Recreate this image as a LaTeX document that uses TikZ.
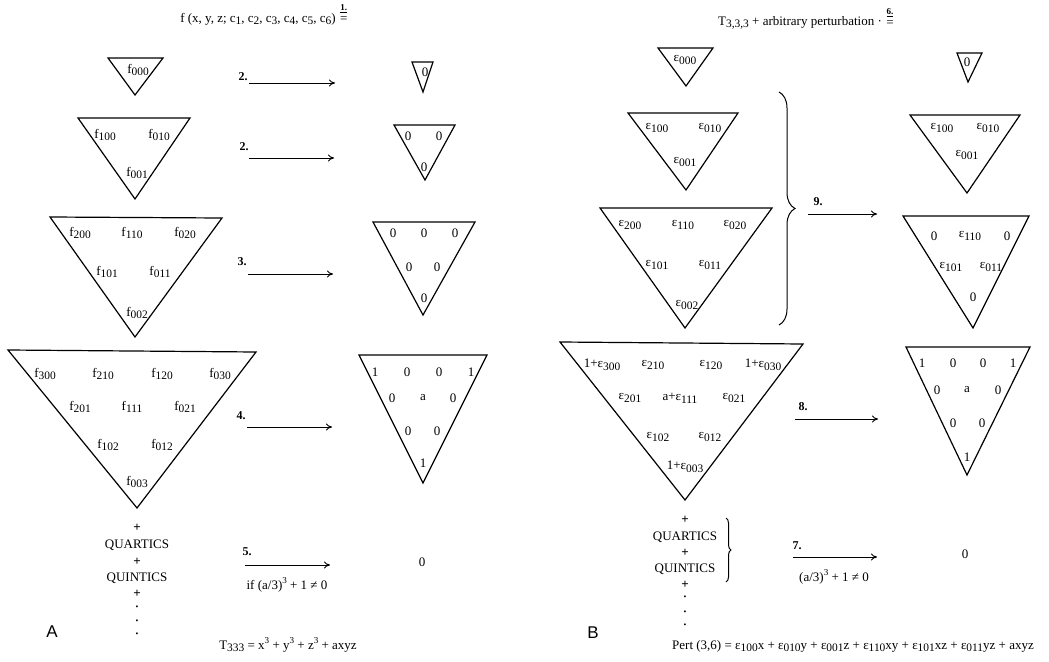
\documentclass[tikz,border=0pt]{standalone}
\usepackage{fontspec}
\setmainfont{Liberation Serif}
\setsansfont{Liberation Sans}
\usetikzlibrary{arrows.meta,decorations.pathreplacing,positioning}
\newcommand{\idx}[1]{\raisebox{-0.45ex}{\scalebox{0.88}{#1}}}
\newcommand{\pw}[1]{\raisebox{0.9ex}{\scalebox{0.7}{#1}}}

\begin{document}
\begin{tikzpicture}[x=1pt,y=-1pt,
    tri/.style={line width=1.2pt},
    arr/.style={line width=1pt,-{To[length=6pt,width=7pt]}},
    lab/.style={inner sep=0pt,font=\fontsize{13}{14}\selectfont},
    num/.style={inner sep=0pt,font=\fontsize{12}{13}\selectfont\bfseries},
    sml/.style={inner sep=0pt,font=\fontsize{9}{9}\selectfont\bfseries},
    sum/.style={inner sep=0pt,font=\fontsize{13}{14}\selectfont},
    txt/.style={inner sep=0pt,font=\fontsize{13}{14}\selectfont},
    dot/.style={inner sep=0pt,font=\fontsize{8}{8}\selectfont},
    panel/.style={inner sep=0pt,font=\sffamily\fontsize{17}{19}\selectfont},
    brc/.style={decorate,decoration={brace,amplitude=#1},line width=1pt}]
    \useasboundingbox (0,0) rectangle (1049,661);

    % panel A, left column
    \node[txt] (ttlA) at (258,19) {f (x, y, z; c\idx{1}, c\idx{2}, c\idx{3}, c\idx{4}, c\idx{5}, c\idx{6})};
    \node[txt,right=4pt of ttlA.east,yshift=-1pt] (eqA) {=};
    \node[sml,above=4pt of eqA] (kA) {\underline{1.}};
    \draw[tri] (108,58) -- (163,58) -- (135,95) -- cycle;
    \node[lab] (f000) at (138,70) {f\idx{000}};
    \draw[tri] (78,118) -- (190,118) -- (135,199) -- cycle;
    \node[lab] (f100) at (105,135) {f\idx{100}};
    \node[lab] (f010) at (159,135) {f\idx{010}};
    \node[lab] (f001) at (137,173) {f\idx{001}};
    \draw[tri] (50,217) -- (222,218) -- (135,337) -- cycle;
    \node[lab] (f200) at (80,233) {f\idx{200}};
    \node[lab] (f110) at (132,233) {f\idx{110}};
    \node[lab] (f020) at (185,233) {f\idx{020}};
    \node[lab] (f101) at (107,272) {f\idx{101}};
    \node[lab] (f011) at (160,272) {f\idx{011}};
    \node[lab] (f002) at (137,313) {f\idx{002}};
    \draw[tri] (8,350) -- (256,352) -- (137,508) -- cycle;
    \node[lab] (f300) at (45,374) {f\idx{300}};
    \node[lab] (f210) at (103,374) {f\idx{210}};
    \node[lab] (f120) at (162,374) {f\idx{120}};
    \node[lab] (f030) at (220,374) {f\idx{030}};
    \node[lab] (f201) at (80,407) {f\idx{201}};
    \node[lab] (f111) at (132,407) {f\idx{111}};
    \node[lab] (f021) at (185,407) {f\idx{021}};
    \node[lab] (f102) at (108,445) {f\idx{102}};
    \node[lab] (f012) at (162,445) {f\idx{012}};
    \node[lab] (f003) at (137,482) {f\idx{003}};
    \node[lab] (pA1) at (137,528) {\textbf{+}};
    \node[sum] (qrtA) at (137,545) {QUARTICS};
    \node[lab] (pA2) at (137,562) {\textbf{+}};
    \node[sum] (qntA) at (137,578) {QUINTICS};
    \node[lab] (pA3) at (137,594) {\textbf{+}};
    \node[dot] (dA1) at (137,608) {\textbullet};
    \node[dot] (dA2) at (137,622) {\textbullet};
    \node[dot] (dA3) at (137,635) {\textbullet};
    \node[panel] (A) at (52,632) {A};
    \node[txt] (cubA) at (288,645) {T\idx{333} = x\pw{3} + y\pw{3} + z\pw{3} + axyz};

    % panel A, arrows
    \coordinate (s2a) at (249,83);  \coordinate (e2a) at (335,83);
    \coordinate (s2b) at (249,158); \coordinate (e2b) at (334,158);
    \coordinate (s3) at (248,274);  \coordinate (e3) at (333,274);
    \coordinate (s4) at (247,427);  \coordinate (e4) at (332,427);
    \coordinate (s5) at (245,565);  \coordinate (e5) at (330,565);
    \draw[arr] (s2a) -- (e2a);
    \draw[arr] (s2b) -- (e2b);
    \draw[arr] (s3) -- (e3);
    \draw[arr] (s4) -- (e4);
    \draw[arr] (s5) -- (e5);
    \node[num] (n2a) at (243,77) {2.};
    \node[num] (n2b) at (244,147) {2.};
    \node[num] (n3) at (242,262) {3.};
    \node[num] (n4) at (241,416) {4.};
    \node[num] (n5) at (247,552) {5.};
    \node[txt] (ifA) at (287,585) {if (a/3)\pw{3} + 1 ≠ 0};

    % panel A, right column
    \draw[tri] (412,62) -- (433,62) -- (423,92) -- cycle;
    \node[lab] (g000) at (425,72) {0};
    \draw[tri] (394,125) -- (455,125) -- (425,180) -- cycle;
    \node[lab] (g100) at (408,136) {0};
    \node[lab] (g010) at (439,136) {0};
    \node[lab] (g001) at (424,167) {0};
    \draw[tri] (373,222) -- (475,222) -- (423,315) -- cycle;
    \node[lab] (g200) at (393,233) {0};
    \node[lab] (g110) at (424,233) {0};
    \node[lab] (g020) at (455,233) {0};
    \node[lab] (g101) at (409,267) {0};
    \node[lab] (g011) at (437,267) {0};
    \node[lab] (g002) at (424,298) {0};
    \draw[tri] (359,355) -- (487,355) -- (423,483) -- cycle;
    \node[lab] (g300) at (375,372) {1};
    \node[lab] (g210) at (407,372) {0};
    \node[lab] (g120) at (439,372) {0};
    \node[lab] (g030) at (471,372) {1};
    \node[lab] (g201) at (392,398) {0};
    \node[lab] (g111) at (423,398) {a};
    \node[lab] (g021) at (453,398) {0};
    \node[lab] (g102) at (408,431) {0};
    \node[lab] (g012) at (437,431) {0};
    \node[lab] (g003) at (423,463) {1};
    \node[lab] (zA) at (422,562) {0};

    % panel B, left column
    \node[txt] (ttlB) at (800,23) {T\idx{3,3,3} + arbitrary perturbation ·};
    \node[txt,right=4pt of ttlB.east,yshift=-1pt] (eqB) {=};
    \node[sml,above=4pt of eqB] (kB) {\underline{6.}};
    \draw[tri] (658,48) -- (713,48) -- (686,86) -- cycle;
    \node[lab] (e000) at (685,60) {ε\idx{000}};
    \draw[tri] (628,113) -- (738,113) -- (686,190) -- cycle;
    \node[lab] (e100) at (657,128) {ε\idx{100}};
    \node[lab] (e010) at (710,128) {ε\idx{010}};
    \node[lab] (e001) at (685,162) {ε\idx{001}};
    \draw[tri] (600,208) -- (772,208) -- (685,328) -- cycle;
    \node[lab] (e200) at (630,225) {ε\idx{200}};
    \node[lab] (e110) at (683,225) {ε\idx{110}};
    \node[lab] (e020) at (735,225) {ε\idx{020}};
    \node[lab] (e101) at (657,265) {ε\idx{101}};
    \node[lab] (e011) at (710,265) {ε\idx{011}};
    \node[lab] (e002) at (687,305) {ε\idx{002}};
    \draw[tri] (560,342) -- (803,344) -- (685,500) -- cycle;
    \node[lab] (e300) at (602,365) {1+ε\idx{300}};
    \node[lab] (e210) at (653,365) {ε\idx{210}};
    \node[lab] (e120) at (711,365) {ε\idx{120}};
    \node[lab] (e030) at (763,365) {1+ε\idx{030}};
    \node[lab] (e201) at (630,398) {ε\idx{201}};
    \node[lab] (e111) at (680,398) {a+ε\idx{111}};
    \node[lab] (e021) at (734,398) {ε\idx{021}};
    \node[lab] (e102) at (658,437) {ε\idx{102}};
    \node[lab] (e012) at (710,437) {ε\idx{012}};
    \node[lab] (e003) at (685,467) {1+ε\idx{003}};
    \node[lab] (pB1) at (685,520) {\textbf{+}};
    \node[sum] (qrtB) at (685,537) {QUARTICS};
    \node[lab] (pB2) at (685,553) {\textbf{+}};
    \node[sum] (qntB) at (685,569) {QUINTICS};
    \node[lab] (pB3) at (685,585) {\textbf{+}};
    \node[dot] (dB1) at (685,598) {\textbullet};
    \node[dot] (dB2) at (685,613) {\textbullet};
    \node[dot] (dB3) at (685,626) {\textbullet};
    \node[panel] (B) at (593,633) {B};
    \node[txt,anchor=west] (pert) at (672,646) {Pert (3,6) = ε\idx{100}x + ε\idx{010}y + ε\idx{001}z + ε\idx{110}xy + ε\idx{101}xz + ε\idx{011}yz + axyz};

    % panel B, braces and arrows
    \draw[brc=16] (779,92) -- (779,325);
    \draw[brc=5] (726,518) -- (726,582);
    \coordinate (s9) at (808,214); \coordinate (e9) at (877,214);
    \coordinate (s8) at (795,419); \coordinate (e8) at (878,419);
    \coordinate (s7) at (793,557); \coordinate (e7) at (877,557);
    \draw[arr] (s9) -- (e9);
    \draw[arr] (s8) -- (e8);
    \draw[arr] (s7) -- (e7);
    \node[num] (n9) at (818,202) {9.};
    \node[num] (n8) at (803,407) {8.};
    \node[num] (n7) at (797,546) {7.};
    \node[txt] (ifB) at (834,577) {(a/3)\pw{3} + 1 ≠ 0};

    % panel B, right column
    \draw[tri] (957,53) -- (982,53) -- (968,82) -- cycle;
    \node[lab] (h000) at (967,62) {0};
    \draw[tri] (910,115) -- (1020,115) -- (967,193) -- cycle;
    \node[lab] (h100) at (942,128) {ε\idx{100}};
    \node[lab] (h010) at (988,128) {ε\idx{010}};
    \node[lab] (h001) at (967,155) {ε\idx{001}};
    \draw[tri] (903,216) -- (1029,216) -- (973,328) -- cycle;
    \node[lab] (h200) at (934,236) {0};
    \node[lab] (h110) at (970,236) {ε\idx{110}};
    \node[lab] (h020) at (1007,236) {0};
    \node[lab] (h101) at (951,267) {ε\idx{101}};
    \node[lab] (h011) at (991,267) {ε\idx{011}};
    \node[lab] (h002) at (973,297) {0};
    \draw[tri] (906,347) -- (1030,347) -- (967,475) -- cycle;
    \node[lab] (h300) at (922,363) {1};
    \node[lab] (h210) at (953,363) {0};
    \node[lab] (h120) at (983,363) {0};
    \node[lab] (h030) at (1013,363) {1};
    \node[lab] (h201) at (937,390) {0};
    \node[lab] (h111) at (967,390) {a};
    \node[lab] (h021) at (998,390) {0};
    \node[lab] (h102) at (953,423) {0};
    \node[lab] (h012) at (982,423) {0};
    \node[lab] (h003) at (967,457) {1};
    \node[lab] (zB) at (965,554) {0};
\end{tikzpicture}
\end{document}
